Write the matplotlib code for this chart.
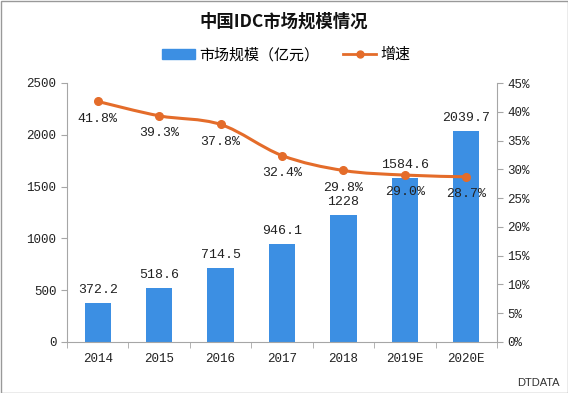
import matplotlib
matplotlib.use("Agg")
import matplotlib.pyplot as plt
from matplotlib.patches import Rectangle, PathPatch
from matplotlib.path import Path
from matplotlib.lines import Line2D

plt.rcParams['font.family'] = ['Noto Sans CJK SC', 'DejaVu Sans']

years = ["2014", "2015", "2016", "2017", "2018", "2019E", "2020E"]
market = [372.2, 518.6, 714.5, 946.1, 1228, 1584.6, 2039.7]
growth = [41.8, 39.3, 37.8, 32.4, 29.8, 29.0, 28.7]

bar_color = "#3C8FE3"
line_color = "#E46C2A"
axis_gray = "#A6A6A6"
num_font = ['Liberation Mono', 'DejaVu Sans Mono']

fig = plt.figure(figsize=(5.68, 3.93), dpi=100)
ax = fig.add_axes([67/568, 1-342/393, 430/568, 259/393])
ax2 = ax.twinx()

x = list(range(len(years)))
bars = ax.bar(x, market, width=0.43, color=bar_color, zorder=2)

# smoothed line through the data points (Catmull-Rom -> cubic Bezier)
verts = [(x[0], growth[0])]
codes = [Path.MOVETO]
n = len(x)
for i in range(n - 1):
    p0 = (x[i-1], growth[i-1]) if i > 0 else (x[i], growth[i])
    p1 = (x[i], growth[i])
    p2 = (x[i+1], growth[i+1])
    p3 = (x[i+2], growth[i+2]) if i + 2 < n else p2
    c1 = (p1[0] + (p2[0]-p0[0])/6, p1[1] + (p2[1]-p0[1])/6)
    c2 = (p2[0] - (p3[0]-p1[0])/6, p2[1] - (p3[1]-p1[1])/6)
    verts += [c1, c2, p2]
    codes += [Path.CURVE4]*3
ax2.add_patch(PathPatch(Path(verts, codes), fill=False, edgecolor=line_color, lw=2.2, zorder=3,
                        capstyle='round', joinstyle='round'))
ax2.plot(x, growth, linestyle='none', marker='o', ms=5.5, color=line_color, zorder=4)

ax.set_zorder(1)
ax2.set_zorder(2)
ax.patch.set_visible(False)

ax.set_xlim(-0.5, len(years)-0.5)
ax.set_ylim(0, 2500)
ax.set_yticks(range(0, 2501, 500))
ax2.set_ylim(0, 45)
ax2.set_yticks(range(0, 46, 5))
ax2.set_yticklabels([f"{v}%" for v in range(0, 46, 5)])

ax.set_xticks(x)
ax.set_xticklabels(years)
ax.set_xticks([i+0.5 for i in range(-1, len(years))], minor=True)
ax.tick_params(axis='x', which='major', length=0, pad=8)
ax.tick_params(axis='x', which='minor', length=4, color=axis_gray, direction='out')

for a in (ax, ax2):
    for s in a.spines.values():
        s.set_color(axis_gray)
    a.spines['top'].set_visible(False)
    a.tick_params(axis='y', length=4, color=axis_gray, labelsize=9, labelcolor="#222222")
    a.tick_params(axis='x', labelsize=9, labelcolor="#222222")
ax2.spines['left'].set_visible(False)
ax.spines['right'].set_visible(False)
ax2.spines['bottom'].set_visible(False)

for lbl in ax.get_xticklabels() + ax.get_yticklabels() + ax2.get_yticklabels():
    lbl.set_family(num_font)

for xi, v in zip(x, market):
    ax.annotate(f"{v:g}", (xi, v), xytext=(0, 5), textcoords='offset points',
                ha='center', va='bottom', fontsize=9.5, family=num_font, color="#222222")
for xi, g in zip(x, growth):
    ax2.annotate(f"{g:.1f}%", (xi, g), xytext=(0, -8), textcoords='offset points',
                 ha='center', va='top', fontsize=9.5, family=num_font, color="#222222")

fig.text(284/568, 1-22/393, "中国IDC市场规模情况", ha='center', va='center',
         fontsize=12.5, fontweight='bold', color="#111111")

bar_handle = Rectangle((0, 0), 1, 1, color=bar_color)
line_handle = Line2D([], [], color=line_color, lw=2, marker='o', ms=5)
fig.legend([bar_handle, line_handle], ["市场规模（亿元）", "增速"], loc='center',
           bbox_to_anchor=(286/568, 1-55/393),
           ncol=2, frameon=False, fontsize=10.8, handlelength=2.2, handleheight=0.6,
           columnspacing=1.6, handletextpad=0.3)
fig.text(560/568, 1-383/393, "DTDATA", ha='right', va='center', fontsize=8, color="#333333",
         family=['Liberation Sans', 'DejaVu Sans'])

fig.patches.append(Rectangle((0.5/568, 0.5/393), 1-1/568, 1-1/393, transform=fig.transFigure,
                             fill=False, edgecolor="#999999", lw=1))

fig.savefig("out.png", dpi=100)
